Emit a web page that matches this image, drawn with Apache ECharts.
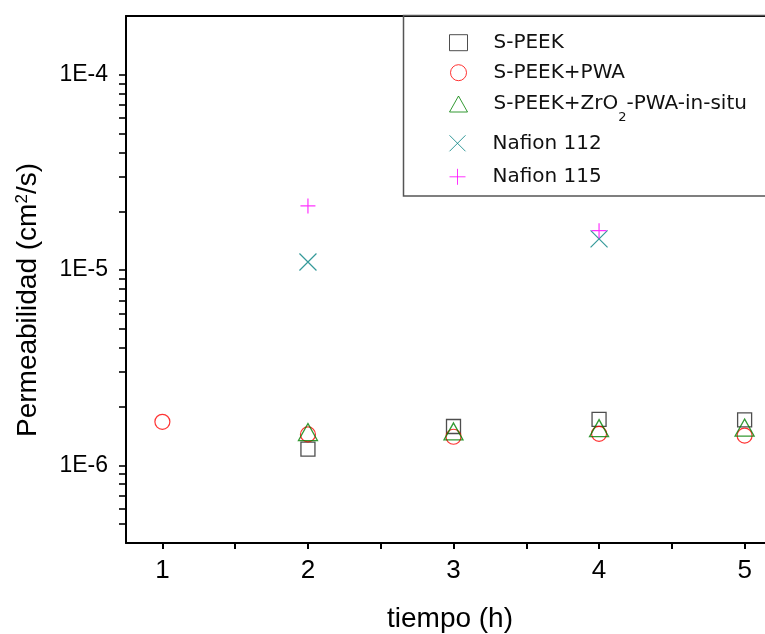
<!DOCTYPE html>
<html><head><meta charset="utf-8">
<script src="https://cdn.jsdelivr.net/npm/echarts@6/dist/echarts.min.js"></script>
<style>html,body{margin:0;padding:0;background:#fff}#c{width:765px;height:634px}</style>
</head><body><div id="c"></div>
<script>
// ---- data ----
const seriesNames = ['S-PEEK', 'S-PEEK+PWA', 'S-PEEK+ZrO2-PWA-in-situ', 'Nafion 112', 'Nafion 115'];
const sPeekTime = [2, 3, 4, 5];
const sPeekPerm = [1.21e-6, 1.58e-6, 1.72e-6, 1.71e-6];
const pwaTime = [1, 2, 3, 4, 5];
const pwaPerm = [1.67e-6, 1.44e-6, 1.40e-6, 1.45e-6, 1.42e-6];
const zrTime = [2, 3, 4, 5];
const zrPerm = [1.48e-6, 1.49e-6, 1.55e-6, 1.56e-6];
const n112Time = [2, 4];
const n112Perm = [1.10e-5, 1.445e-5];
const n115Time = [2, 4];
const n115Perm = [2.13e-5, 1.59e-5];
const xTickLabels = [1, 2, 3, 4, 5];
const xAllTicks = [1, 1.5, 2, 2.5, 3, 3.5, 4, 4.5, 5];
const yTickLabels = [1e-6, 1e-5, 1e-4];
const yAllTicks = [5e-7, 6e-7, 7e-7, 8e-7, 9e-7, 1e-6, 2e-6, 3e-6, 4e-6, 5e-6, 6e-6, 7e-6, 8e-6, 9e-6,
                   1e-5, 2e-5, 3e-5, 4e-5, 5e-5, 6e-5, 7e-5, 8e-5, 9e-5, 1e-4];

const zip = (xs, ys) => xs.map((x, i) => [x, ys[i]]);
const X_MIN = 0.75, X_MAX = 5.25, Y_MIN = 4e-7, Y_MAX = 2e-4;
const crossPath = 'path://M0,0L10,10M10,0L0,10';
const plusPath = 'path://M5,0L5,10M0,5L10,5';
const AX = 'Liberation Sans, Arial, sans-serif';
const LG = 'DejaVu Sans, sans-serif';

const chart = echarts.init(document.getElementById('c'), null, {renderer: 'canvas'});
const hollow = (c, w) => ({color: 'rgba(0,0,0,0)', borderColor: c, borderWidth: w || 1});

const legendBase = {
  orient: 'vertical', left: 449, padding: 0, itemWidth: 18, itemHeight: 16,
  selectedMode: false,
  itemStyle: {borderWidth: 1},
  textStyle: {fontFamily: LG, fontSize: 20, color: '#111', lineHeight: 24, padding: [0, 0, 0, 21]}
};

chart.setOption({
  animation: false,
  backgroundColor: '#fff',
  grid: {left: 126, right: -16, top: 16, bottom: 91, containLabel: false, outerBoundsMode: 'none'},
  xAxis: [
    {type: 'value', position: 'bottom', min: X_MIN, max: X_MAX,
     axisLine: {show: true, lineStyle: {color: '#000', width: 2}},
     axisTick: {show: true, customValues: xAllTicks, length: 6, lineStyle: {color: '#000', width: 2}},
     axisLabel: {customValues: xTickLabels, fontFamily: AX, fontSize: 26, color: '#000', margin: 15},
     splitLine: {show: false},
     name: 'tiempo (h)', nameLocation: 'middle', nameGap: 62,
     nameTextStyle: {fontFamily: AX, fontSize: 28, color: '#000', padding: [0, 7, 0, 0]}},
    {type: 'value', position: 'top', min: X_MIN, max: X_MAX,
     axisLine: {show: true, lineStyle: {color: '#000', width: 2}},
     axisTick: {show: false}, axisLabel: {show: false}, splitLine: {show: false}}
  ],
  yAxis: [
    {type: 'log', position: 'left', min: Y_MIN, max: Y_MAX, logBase: 10,
     axisLine: {show: true, lineStyle: {color: '#000', width: 2}},
     axisTick: {show: true, customValues: yAllTicks, length: 7, lineStyle: {color: '#000', width: 1.6}},
     axisLabel: {customValues: yTickLabels, fontFamily: AX, fontSize: 23, color: '#000', margin: 18,
       formatter: v => '1E' + Math.round(Math.log10(v))},
     splitLine: {show: false},
     name: 'Permeabilidad (cm{sup|2}/s)', nameLocation: 'middle', nameGap: 84,
     nameTextStyle: {fontFamily: AX, fontSize: 28, color: '#000', padding: [0, 41, 0, 0],
       rich: {sup: {fontFamily: AX, fontSize: 17, color: '#000', verticalAlign: 'top'}}}}
  ],
  legend: [
    Object.assign({}, legendBase, {top: 30.7, itemGap: 6,
      data: [{name: seriesNames[0], icon: 'rect'}, {name: seriesNames[1], icon: 'circle'}]}),
    Object.assign({}, legendBase, {top: 92, itemGap: 6,
      data: [{name: seriesNames[2], icon: 'triangle'}],
      formatter: () => 'S-PEEK+ZrO{sub|2}-PWA-in-situ',
      textStyle: Object.assign({}, legendBase.textStyle, {
        rich: {sub: {fontFamily: LG, fontSize: 13, color: '#111', padding: [28, 0, 0, 0]}}})}),
    Object.assign({}, legendBase, {top: 131.3, itemGap: 9.5,
      data: [{name: seriesNames[3], icon: crossPath}, {name: seriesNames[4], icon: plusPath}]})
  ],
  graphic: [{type: 'rect', shape: {x: 403.5, y: 15.5, width: 420, height: 180.5},
    style: {fill: 'none', stroke: '#555', lineWidth: 1.5}, z: 10, silent: true}],
  series: [
    {type: 'scatter', name: seriesNames[0], data: zip(sPeekTime, sPeekPerm), symbol: 'rect', symbolSize: 14,
     itemStyle: hollow('#222', 1.3)},
    {type: 'scatter', name: seriesNames[1], data: zip(pwaTime, pwaPerm), symbol: 'circle', symbolSize: 15,
     itemStyle: hollow('#ff0000', 1.2)},
    {type: 'scatter', name: seriesNames[2], data: zip(zrTime, zrPerm), symbol: 'triangle', symbolSize: [19, 17],
     itemStyle: hollow('#008000', 1.3)},
    {type: 'scatter', name: seriesNames[3], data: zip(n112Time, n112Perm), symbol: crossPath, symbolSize: 17,
     itemStyle: hollow('#008080', 1.2)},
    {type: 'scatter', name: seriesNames[4], data: zip(n115Time, n115Perm), symbol: plusPath, symbolSize: 15,
     itemStyle: hollow('#ff00ff', 1.2)}
  ]
});
</script></body></html>
